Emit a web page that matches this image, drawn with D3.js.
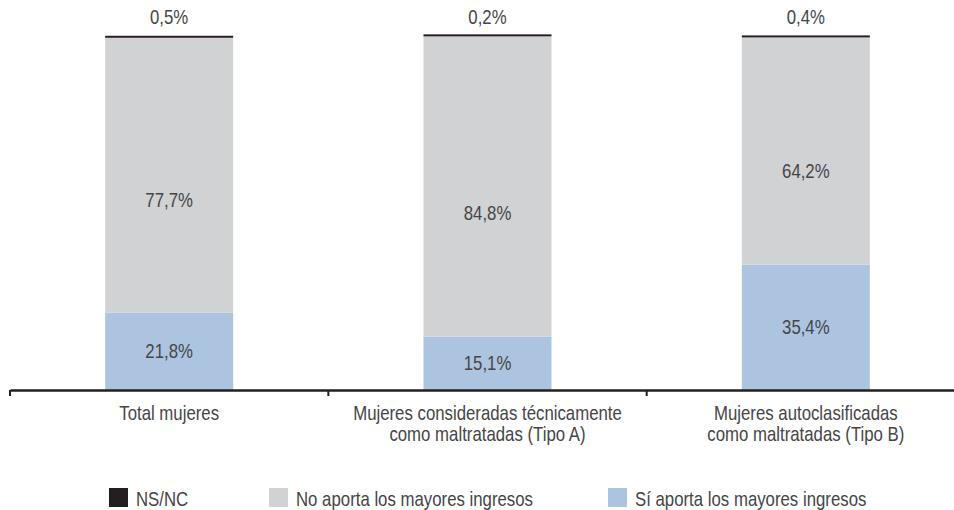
<!DOCTYPE html>
<html>
<head>
<meta charset="utf-8">
<script src="https://cdn.jsdelivr.net/npm/d3@7"></script>
<style>
  html, body { margin: 0; padding: 0; background: #fff; }
  svg text { font-family: "Liberation Sans", Arial, sans-serif; fill: #454547; }
</style>
</head>
<body>
<svg id="chart" width="954" height="510"></svg>
<script>
// Categories (each label split into lines)
const categories = [
  ["Total mujeres"],
  ["Mujeres consideradas técnicamente", "como maltratadas (Tipo A)"],
  ["Mujeres autoclasificadas", "como maltratadas (Tipo B)"]
];
// Series values, in percent (stacked bottom to top)
const siValues = [21.8, 15.1, 35.4];
const noValues = [77.7, 84.8, 64.2];
const nsncValues = [0.5, 0.2, 0.4];
const seriesNames = ["Sí aporta los mayores ingresos", "No aporta los mayores ingresos", "NS/NC"];
const seriesColors = ["#adc4e1", "#d1d2d4", "#231f20"];

const svg = d3.select("#chart");
const baseY = 390, topY = 36;
const FS = 20, SX = 0.84; // condensed text: font size and horizontal squeeze
const y = d3.scaleLinear().domain([0, 100]).range([baseY, topY]);
const x = d3.scaleBand().domain(d3.range(categories.length)).range([10, 965]);
const barW = 128;
const cx = i => x(i) + x.bandwidth() / 2;

// Condensed text helper
function label(parent, px, py, txt, anchor = "middle") {
  return parent.append("text")
    .attr("transform", `translate(${px},${py}) scale(${SX},1)`)
    .attr("text-anchor", anchor)
    .attr("font-size", FS)
    .text(txt);
}

const table = categories.map((c, i) => ({ i, si: siValues[i], no: noValues[i], ns: nsncValues[i] }));
const stack = d3.stack().keys(["si", "no", "ns"])(table);
const fmt = v => d3.format(".1f")(v).replace(".", ",") + "%";

// Thin segments (NS/NC) keep at least 2px so they stay visible as a cap line
const minH = 2;
const g = svg.append("g");
stack.forEach((layer, k) => {
  g.selectAll(null).data(layer).enter().append("rect")
    .attr("x", d => cx(d.data.i) - barW / 2)
    .attr("width", barW)
    .attr("y", d => Math.min(y(d[1]), y(d[0]) - minH))
    .attr("height", d => Math.max(y(d[0]) - y(d[1]), minH))
    .attr("fill", seriesColors[k]);
});

// Value labels: inside the two main segments, above the bar for NS/NC
const anchorFrac = [0.5, 0.412];
stack.forEach((layer, k) => {
  layer.forEach(d => {
    const v = d[1] - d[0];
    const py = k < 2 ? y(d[0] + anchorFrac[k] * v) + 7 : y(d[1]) - 12;
    label(g, cx(d.data.i), py, fmt(v));
  });
});

// Category axis
const axis = d3.axisBottom(x).tickValues([]).tickSizeOuter(0);
const ax = svg.append("g").attr("transform", `translate(0,${baseY})`).call(axis);
ax.select(".domain").attr("stroke", "#231f20").attr("stroke-width", 2.5);
const bounds = d3.range(categories.length + 1).map(i => i < categories.length ? x(i) : x(i - 1) + x.bandwidth());
ax.selectAll(".sep").data(bounds).enter().append("line")
  .attr("x1", d => d).attr("x2", d => d).attr("y1", 0).attr("y2", 6)
  .attr("stroke", "#231f20").attr("stroke-width", 2);

categories.forEach((lines, i) => {
  lines.forEach((l, j) => label(svg, cx(i), 420 + j * 21, l));
});

// Legend
const legendItems = [
  { name: seriesNames[2], color: seriesColors[2], x: 109 },
  { name: seriesNames[1], color: seriesColors[1], x: 269 },
  { name: seriesNames[0], color: seriesColors[0], x: 608 }
];
const lg = svg.append("g");
legendItems.forEach(it => {
  lg.append("rect").attr("x", it.x).attr("y", 488).attr("width", 19).attr("height", 19).attr("fill", it.color);
  label(lg, it.x + 27, 506, it.name, "start");
});
</script>
</body>
</html>
